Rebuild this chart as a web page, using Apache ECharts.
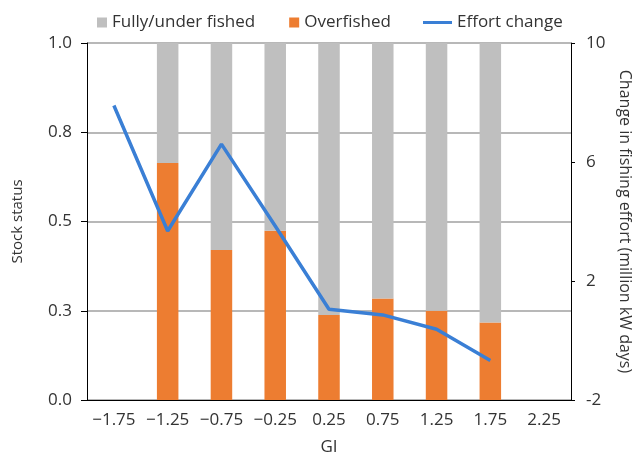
<!DOCTYPE html>
<html>
<head>
<meta charset="utf-8">
<script src="https://cdn.jsdelivr.net/npm/echarts@6/dist/echarts.min.js"></script>
<style>html,body{margin:0;padding:0;background:#fff}#c{width:634px;height:455px}</style>
</head>
<body>
<div id="c"></div>
<script>
const categories = ['\u22121.75','\u22121.25','\u22120.75','\u22120.25','0.25','0.75','1.25','1.75','2.25'];
const overfished = [null, 0.664, 0.420, 0.474, 0.238, 0.284, 0.250, 0.217, null];
const fullyUnder = [null, 0.336, 0.580, 0.526, 0.762, 0.716, 0.750, 0.783, null];
const effortChange = [7.9, 3.68, 6.6, 3.85, 1.05, 0.86, 0.38, -0.67, null];
const leftTickLabels = ['0.0','0.3','0.5','0.8','1.0'];
const rightTicks = [-2, 2, 6, 10];

const FONT = 'Open Sans';
const TXT = '#333';
const chart = echarts.init(document.getElementById('c'), null, {renderer:'canvas'});
chart.setOption({
  animation:false,
  textStyle:{fontFamily:FONT},
  grid:{left:87, right:63, top:43, bottom:55, containLabel:false, outerBoundsMode:'none'},
  legend:[
    {data:['Fully/under fished','Overfished'], left:92, top:9, icon:'rect', itemWidth:10, itemHeight:10, itemGap:34,
     textStyle:{fontSize:17, color:TXT, fontFamily:FONT}},
    {data:['Effort change'], left:418, top:9, icon:'rect', itemWidth:29, itemHeight:3,
     textStyle:{fontSize:17, color:TXT, fontFamily:FONT}}
  ],
  xAxis:{
    type:'category', data:categories,
    name:'GI', nameLocation:'middle', nameGap:39,
    nameTextStyle:{fontSize:17, color:TXT, fontFamily:FONT},
    axisLine:{lineStyle:{color:'#000', width:1}},
    axisTick:{show:false},
    axisLabel:{fontSize:17, color:TXT, margin:12, interval:0, fontFamily:FONT}
  },
  yAxis:[
    {type:'value', min:0, max:1, interval:0.25, position:'left',
     name:'Stock status', nameLocation:'middle', nameGap:62, nameRotate:90,
     nameTextStyle:{fontSize:15, color:TXT, fontFamily:FONT},
     axisLine:{show:true, lineStyle:{color:'#000', width:1}},
     axisTick:{show:true, length:6, lineStyle:{color:'#000'}},
     axisLabel:{fontSize:17, color:TXT, margin:15, fontFamily:FONT,
       formatter:function(v){return leftTickLabels[Math.round(v/0.25)];}},
     splitLine:{show:true, lineStyle:{color:'#a0a0a0', width:1.5}}
    },
    {type:'value', min:-2, max:10, position:'right',
     name:'Change in fishing effort (million kW days)', nameLocation:'middle', nameGap:45, nameRotate:-90,
     nameTextStyle:{fontSize:16, color:TXT, fontFamily:FONT},
     axisLine:{show:true, lineStyle:{color:'#000', width:1}},
     axisTick:{show:true, length:4, lineStyle:{color:'#000'}, customValues:rightTicks},
     axisLabel:{fontSize:17, color:TXT, margin:15, fontFamily:FONT, customValues:rightTicks},
     splitLine:{show:false}
    }
  ],
  series:[
    {name:'Overfished', type:'bar', stack:'s', data:overfished, barWidth:'40%',
     itemStyle:{color:'#ED7D31'}},
    {name:'Fully/under fished', type:'bar', stack:'s', data:fullyUnder, barWidth:'40%',
     itemStyle:{color:'#BFBFBF'}},
    {name:'Effort change', type:'line', yAxisIndex:1, data:effortChange, symbol:'none',
     lineStyle:{color:'#3A7FD5', width:3.5}, itemStyle:{color:'#3A7FD5'}, z:5}
  ]
});
</script>
</body>
</html>
